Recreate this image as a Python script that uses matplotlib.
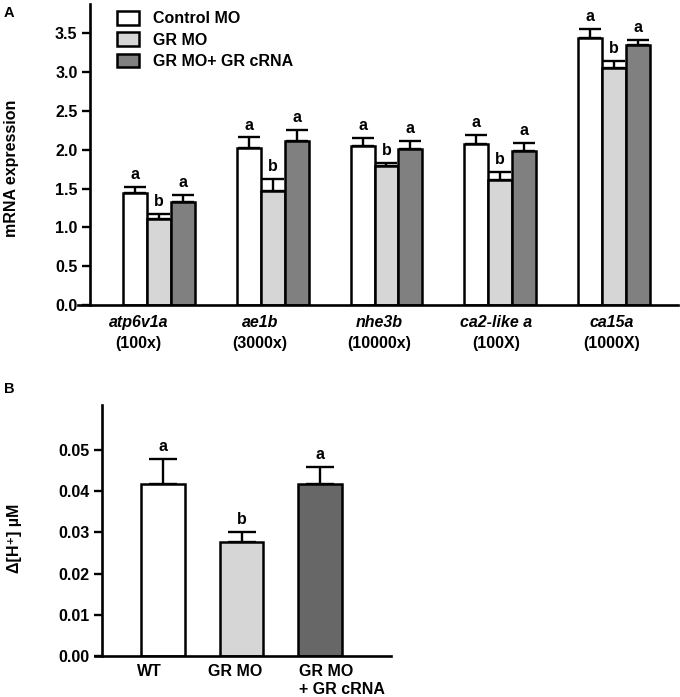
import numpy as np
import matplotlib.pyplot as plt
from matplotlib.patches import Patch
from matplotlib.ticker import FormatStrFormatter

plt.rcParams['font.family'] = ['Liberation Sans', 'DejaVu Sans']
plt.rcParams['font.weight'] = 'bold'
plt.rcParams['font.size'] = 11.5

# Panel A: mRNA expression
genes = ["atp6v1a", "ae1b", "nhe3b", "ca2-like a", "ca15a"]
folds = ["(100x)", "(3000x)", "(10000x)", "(100X)", "(1000X)"]
groups = ["Control MO", "GR MO", "GR MO+ GR cRNA"]
control_mean = [1.44, 2.02, 2.05, 2.07, 3.44]
control_err = [0.08, 0.14, 0.10, 0.12, 0.12]
grmo_mean = [1.11, 1.47, 1.79, 1.61, 3.06]
grmo_err = [0.06, 0.16, 0.04, 0.11, 0.09]
rescue_mean = [1.33, 2.12, 2.01, 1.98, 3.35]
rescue_err = [0.09, 0.14, 0.11, 0.11, 0.07]
control_sig = ["a", "a", "a", "a", "a"]
grmo_sig = ["b", "b", "b", "b", "b"]
rescue_sig = ["a", "a", "a", "a", "a"]

# Panel B: proton secretion
ph_groups = ["WT", "GR MO", "GR MO\n+ GR cRNA"]
ph_mean = [0.0417, 0.0276, 0.0417]
ph_err = [0.0061, 0.0026, 0.0042]
ph_sig = ["a", "b", "a"]

colors_a = ["white", "#d6d6d6", "#808080"]
colors_b = ["white", "#d6d6d6", "#676767"]
lw = 1.8

W, H = 680, 697
fig = plt.figure(figsize=(W / 100, H / 100), dpi=100)


def px_axes(l, t, r, b):
    return fig.add_axes([l / W, 1 - b / H, (r - l) / W, (b - t) / H])


def style(ax, spine_pos):
    for s in ["top", "right"]:
        ax.spines[s].set_visible(False)
    for s in ["left", "bottom"]:
        ax.spines[s].set_linewidth(1.9)
    ax.spines["left"].set_position(("axes", spine_pos))
    ax.tick_params(axis="y", direction="out", length=6, width=1.7, pad=3)


# ---- A ----
axA = px_axes(78, 4, 678, 305)
style(axA, 0.02)
x = np.arange(len(genes))
w = 0.21
series = [(control_mean, control_err, control_sig),
          (grmo_mean, grmo_err, grmo_sig),
          (rescue_mean, rescue_err, rescue_sig)]
for i, (m, e, sig) in enumerate(series):
    xs = x + (i - 1) * w
    axA.bar(xs, m, w, color=colors_a[i], edgecolor="black", linewidth=lw,
            zorder=2)
    axA.errorbar(xs, m, yerr=[np.zeros(len(m)), e], fmt="none",
                 ecolor="black", elinewidth=1.7, capsize=8, capthick=1.7,
                 zorder=1)
    for xi, mi, ei, s in zip(xs, m, e, sig):
        axA.annotate(s, (xi, mi + ei), xytext=(0, 3.5), textcoords="offset points",
                     ha="center", va="bottom")

axA.set_xlim(-0.712, 4.563)
axA.set_ylim(0, 3.88)
axA.set_yticks(np.arange(0, 3.6, 0.5))
axA.yaxis.set_major_formatter(FormatStrFormatter("%.1f"))
axA.set_xticks([])

label_shift = [-0.18, -0.11, -0.06, -0.035, -0.02]
for xi, g, f, d in zip(x, genes, folds, label_shift):
    axA.annotate(g, (xi + d, 0), xycoords=axA.get_xaxis_transform(),
                 xytext=(0, -7.5), textcoords="offset points",
                 ha="center", va="top", style="italic")
    axA.annotate(f, (xi + d, 0), xycoords=axA.get_xaxis_transform(),
                 xytext=(0, -22.5), textcoords="offset points",
                 ha="center", va="top")

handles = [Patch(facecolor=c, edgecolor="black", linewidth=lw) for c in colors_a]
fig.legend(handles, groups, loc="upper left",
           bbox_to_anchor=(117 / W, 1 - 11 / H), frameon=False,
           borderpad=0, borderaxespad=0, handlelength=1.38, handleheight=0.94,
           handletextpad=0.85, labelspacing=0.38)

fig.text(12 / W, 1 - 168 / H, "mRNA expression", rotation=90,
         ha="center", va="center")
fig.text(9 / W, 1 - 13 / H, "A", ha="center", va="center", fontsize=10.5)

# ---- B ----
axB = px_axes(95, 405, 391, 656)
style(axB, 0.0236)
xb = np.arange(len(ph_groups))
wb = 0.56
for i in range(len(ph_groups)):
    axB.bar(xb[i], ph_mean[i], wb, color=colors_b[i], edgecolor="black",
            linewidth=lw, zorder=2)
axB.errorbar(xb, ph_mean, yerr=[np.zeros(3), ph_err], fmt="none",
             ecolor="black", elinewidth=1.7, capsize=10, capthick=1.7,
             zorder=1)
for xi, mi, ei, s in zip(xb, ph_mean, ph_err, ph_sig):
    axB.annotate(s, (xi, mi + ei), xytext=(0, 3.5), textcoords="offset points",
                 ha="center", va="bottom")

axB.set_xlim(-0.866, 2.904)
axB.set_ylim(0, 0.0609)
axB.set_yticks(np.arange(0, 0.051, 0.01))
axB.yaxis.set_major_formatter(FormatStrFormatter("%.2f"))
tick_shift = [-0.17, -0.08, 0.28]
axB.set_xticks(xb + np.array(tick_shift))
axB.set_xticklabels(ph_groups, multialignment="left")
axB.tick_params(axis="x", length=0, pad=6)

fig.text(15 / W, 1 - 538 / H, "\u0394[H\u207a] \u00b5M", rotation=90,
         ha="center", va="center")
fig.text(9 / W, 1 - 389 / H, "B", ha="center", va="center", fontsize=10.5)

fig.savefig("out.png", dpi=100)
